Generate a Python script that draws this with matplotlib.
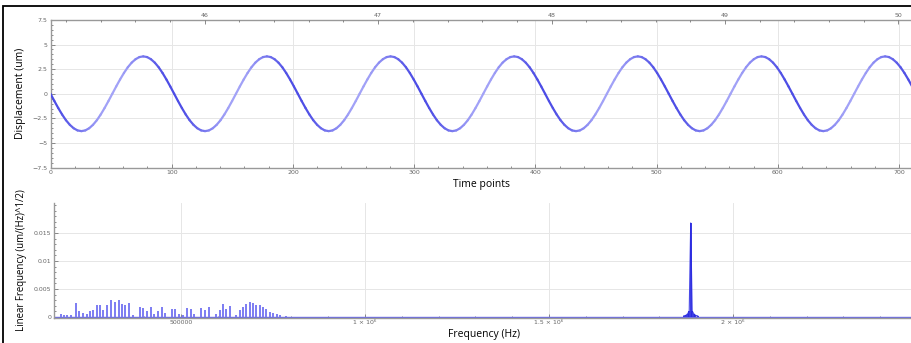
import numpy as np
import matplotlib
matplotlib.use("Agg")
import matplotlib.pyplot as plt
from matplotlib.collections import LineCollection
from matplotlib.patches import Rectangle
from matplotlib.ticker import MultipleLocator, FixedLocator

# ---------------- data ----------------
time_step = 3.1875  # time points between successive samples
displacement = [
    0.0, -0.74, -1.45, -2.11, -2.69, -3.16, -3.51, -3.73, -3.8, -3.73, -3.51, -3.16, -2.69, -2.11, -1.45, -0.74,
    0.0, 0.74, 1.45, 2.11, 2.69, 3.16, 3.51, 3.73, 3.8, 3.73, 3.51, 3.16, 2.69, 2.11, 1.45, 0.74,
    0.0, -0.74, -1.45, -2.11, -2.69, -3.16, -3.51, -3.73, -3.8, -3.73, -3.51, -3.16, -2.69, -2.11, -1.45, -0.74,
    0.0, 0.74, 1.45, 2.11, 2.69, 3.16, 3.51, 3.73, 3.8, 3.73, 3.51, 3.16, 2.69, 2.11, 1.45, 0.74,
    0.0, -0.74, -1.45, -2.11, -2.69, -3.16, -3.51, -3.73, -3.8, -3.73, -3.51, -3.16, -2.69, -2.11, -1.45, -0.74,
    0.0, 0.74, 1.45, 2.11, 2.69, 3.16, 3.51, 3.73, 3.8, 3.73, 3.51, 3.16, 2.69, 2.11, 1.45, 0.74,
    0.0, -0.74, -1.45, -2.11, -2.69, -3.16, -3.51, -3.73, -3.8, -3.73, -3.51, -3.16, -2.69, -2.11, -1.45, -0.74,
    0.0, 0.74, 1.45, 2.11, 2.69, 3.16, 3.51, 3.73, 3.8, 3.73, 3.51, 3.16, 2.69, 2.11, 1.45, 0.74,
    0.0, -0.74, -1.45, -2.11, -2.69, -3.16, -3.51, -3.73, -3.8, -3.73, -3.51, -3.16, -2.69, -2.11, -1.45, -0.74,
    0.0, 0.74, 1.45, 2.11, 2.69, 3.16, 3.51, 3.73, 3.8, 3.73, 3.51, 3.16, 2.69, 2.11, 1.45, 0.74,
    0.0, -0.74, -1.45, -2.11, -2.69, -3.16, -3.51, -3.73, -3.8, -3.73, -3.51, -3.16, -2.69, -2.11, -1.45, -0.74,
    0.0, 0.74, 1.45, 2.11, 2.69, 3.16, 3.51, 3.73, 3.8, 3.73, 3.51, 3.16, 2.69, 2.11, 1.45, 0.74,
    0.0, -0.74, -1.45, -2.11, -2.69, -3.16, -3.51, -3.73, -3.8, -3.73, -3.51, -3.16, -2.69, -2.11, -1.45, -0.74,
    0.0, 0.74, 1.45, 2.11, 2.69, 3.16, 3.51, 3.73, 3.8, 3.73, 3.51, 3.16, 2.69, 2.11, 1.45, 0.74,
    0.0,
]
time_ticks = [0, 100, 200, 300, 400, 500, 600, 700]
disp_ticks = [-7.5, -5, -2.5, 0, 2.5, 5, 7.5]
disp_tick_labels = ["\u22127.5", "\u22125", "\u22122.5", "0", "2.5", "5", "7.5"]
top_tick_labels = ["46", "47", "48", "49", "50"]
top_tick_times = [127.3, 270.3, 413.3, 556.3, 699.3]

spike_freq_khz = [
    173.5, 182.6, 191.6, 200.7, 214.4, 223.4, 232.5, 243.4, 252.5, 261.6,
    270.7, 279.8, 288.8, 297.9, 310.6, 319.7, 330.6, 339.7, 348.8, 359.7,
    368.8, 388.7, 397.8, 406.9, 418.7, 427.8, 438.7, 447.8, 456.9, 475.9,
    485.0, 495.9, 505.0, 516.8, 525.9, 535.0, 555.0, 564.0, 574.9, 595.8,
    604.9, 614.0, 623.1, 632.2, 650.3, 659.4, 668.5, 677.6, 686.6, 695.7,
    704.8, 713.9, 723.0, 732.1, 741.1, 750.2, 761.1, 770.2, 786.6,
]
spike_amp = [
    0.0006, 0.0004, 0.0003, 0.0003, 0.0025, 0.0010, 0.0007, 0.0006, 0.0010, 0.0012,
    0.0021, 0.0022, 0.0013, 0.0021, 0.0030, 0.0027, 0.0030, 0.0023, 0.0021, 0.0025,
    0.0003, 0.0018, 0.0016, 0.0011, 0.0018, 0.0005, 0.0011, 0.0017, 0.0007, 0.0015,
    0.0014, 0.0005, 0.0004, 0.0016, 0.0014, 0.0006, 0.0016, 0.0013, 0.0017, 0.0005,
    0.0012, 0.0024, 0.0015, 0.0019, 0.0003, 0.0012, 0.0018, 0.0024, 0.0026, 0.0025,
    0.0022, 0.0021, 0.0017, 0.0015, 0.0009, 0.0007, 0.0005, 0.0003, 0.0002,
]
peak_freq_khz = [1866, 1872, 1877, 1881, 1885, 1889, 1893, 1898, 1904]
peak_amp = [0.0002, 0.0003, 0.0006, 0.0011, 0.0168, 0.0011, 0.0006, 0.0003, 0.0002]
noise_floor = 0.00008
freq_ticks = [500000, 1000000, 1500000, 2000000]
freq_tick_labels = ["500000", "1 \u00d7 10\u2076", "1.5 \u00d7 10\u2076", "2 \u00d7 10\u2076"]
amp_ticks = [0, 0.005, 0.01, 0.015]
amp_tick_labels = ["0", "0.005", "0.01", "0.015"]

# ---------------- figure ----------------
W, H = 911, 343
fig = plt.figure(figsize=(W / 100, H / 100), dpi=100)
fig.patch.set_facecolor("white")

label_font = dict(family=["Open Sans", "DejaVu Sans"], size=7.5, color="black")
label_font_small = dict(family=["Open Sans", "DejaVu Sans"], size=6.9, color="black")
tick_color = "#777777"
grid_color = "#e6e6e6"


def px_axes(l, t, r, b):
    return fig.add_axes([l / W, 1 - b / H, (r - l) / W, (b - t) / H])


def style_ticks(ax):
    ax.tick_params(which="both", direction="in", colors=tick_color, labelsize=4.5,
                   labelcolor="#666666", width=0.6)
    ax.tick_params(which="major", length=3)
    ax.tick_params(which="minor", length=1.5)


# ---- top: displacement vs time ----
ax1 = px_axes(50.5, 20, 913, 167.5)
t = np.arange(len(displacement)) * time_step
y = np.array(displacement)
pts = np.column_stack([t, y]).reshape(-1, 1, 2)
segs = np.concatenate([pts[:-1], pts[1:]], axis=1)
slope = np.diff(y)
light = np.array([0.64, 0.64, 0.97])
dark = np.array([0.30, 0.30, 0.90])
w = np.clip((-slope / np.abs(slope).max() + 1) / 2, 0, 1)[:, None]
cols = light * (1 - w) + dark * w
lc = LineCollection(segs, colors=cols, linewidths=1.6, capstyle="round", zorder=3)
ax1.add_collection(lc)
ax1.set_xlim(0, 711.5)
ax1.set_ylim(-7.5, 7.5)
ax1.set_xticks(time_ticks)
ax1.xaxis.set_minor_locator(MultipleLocator(20))
ax1.set_yticks(disp_ticks)
ax1.set_yticklabels(disp_tick_labels)
ax1.yaxis.set_minor_locator(MultipleLocator(0.5))
ax1.grid(True, which="major", color=grid_color, lw=0.7, zorder=0)
for s in ["left", "bottom", "top"]:
    ax1.spines[s].set_color("#999999")
    ax1.spines[s].set_linewidth(1.0)
ax1.spines["right"].set_visible(False)
style_ticks(ax1)
ax1.tick_params(axis="x", pad=1.5)
ax1.tick_params(axis="y", pad=2)
ax1.set_xlabel("Time points", fontdict=label_font, labelpad=3)
ax1.set_ylabel("Displacement (um)", fontdict=label_font, labelpad=5)

ax1t = ax1.twiny()
ax1t.set_xlim(ax1.get_xlim())
ax1t.set_xticks(top_tick_times)
ax1t.set_xticklabels(top_tick_labels)
ax1t.xaxis.set_minor_locator(FixedLocator(np.arange(top_tick_times[0] - 4 * 28.6, 712, 28.6)))
for s in ax1t.spines.values():
    s.set_visible(False)
style_ticks(ax1t)
ax1t.tick_params(axis="x", pad=1.5)

# ---- bottom: spectrum ----
ax2 = px_axes(54, 203, 913, 318)
f_sp = np.array(spike_freq_khz) * 1000
ax2.vlines(f_sp, 0, spike_amp, colors="#7c7cf2", lw=1.4, zorder=3)
ax2.axhline(noise_floor, color="#6a6ae6", lw=1.0, zorder=2)
f_pk = np.array(peak_freq_khz) * 1000
ax2.plot(f_pk, peak_amp, color="#4a4ae8", lw=0.8, zorder=3)
ax2.vlines(f_pk, 0, peak_amp, colors="#2a2ae0", lw=1.3, zorder=4)
ax2.set_xlim(155000, 2489000)
ax2.set_ylim(-0.00018, 0.02036)
ax2.set_xticks(freq_ticks)
ax2.set_xticklabels(freq_tick_labels)
ax2.xaxis.set_minor_locator(MultipleLocator(100000))
ax2.set_yticks(amp_ticks)
ax2.set_yticklabels(amp_tick_labels)
ax2.yaxis.set_minor_locator(MultipleLocator(0.001))
ax2.grid(True, which="major", color=grid_color, lw=0.7, zorder=0)
for s in ["left", "bottom"]:
    ax2.spines[s].set_color("#999999")
    ax2.spines[s].set_linewidth(1.0)
for s in ["right", "top"]:
    ax2.spines[s].set_visible(False)
style_ticks(ax2)
ax2.tick_params(axis="x", pad=1.5)
ax2.tick_params(axis="y", pad=2)
ax2.set_xlabel("Frequency (Hz)", fontdict=label_font, labelpad=3)
ax2.set_ylabel("Linear Frequency (um/(Hz)^1/2)", fontdict=label_font_small, labelpad=5)

# outer frame
fig.add_artist(Rectangle((3 / W, -0.02), 1.02, 1 - 5.5 / H + 0.02, transform=fig.transFigure,
                         fill=False, edgecolor="black", lw=1.3))

fig.savefig("out.png", dpi=100, facecolor="white")
